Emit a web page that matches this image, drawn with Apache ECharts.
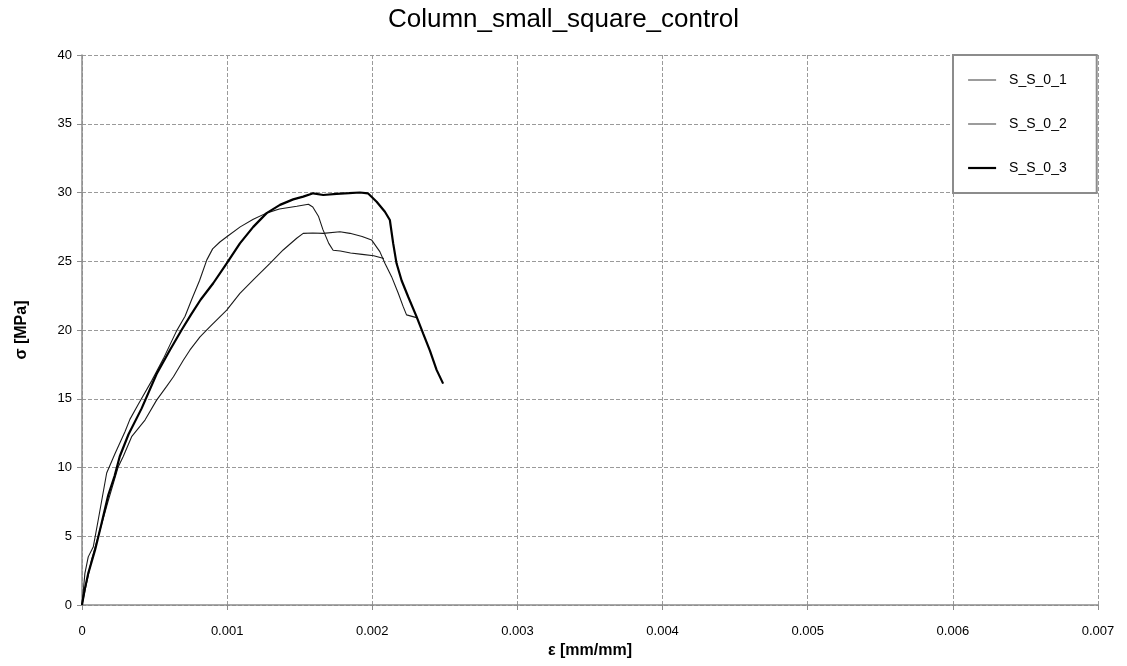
<!DOCTYPE html>
<html>
<head>
<meta charset="utf-8">
<script src="https://cdn.jsdelivr.net/npm/echarts@6/dist/echarts.min.js"></script>
<style>
  html, body { margin: 0; padding: 0; background: #fff; }
  #chart { width: 1127px; height: 666px; }
</style>
</head>
<body>
<div id="chart"></div>
<script>
// Stress–strain curves for the three small square control columns
const seriesNames = ['S_S_0_1', 'S_S_0_2', 'S_S_0_3'];

// S_S_0_1: strain [mm/mm] and stress [MPa]
const strain1 = [0, 0.00002, 0.000043, 0.000078, 0.000112, 0.00017, 0.000227, 0.000296, 0.00033, 0.000388,
  0.00048, 0.00056, 0.00065, 0.00071, 0.000755, 0.00081, 0.00086, 0.0009, 0.00095, 0.001,
  0.00109, 0.00118, 0.00127, 0.00136, 0.00148, 0.00156, 0.00159, 0.00163, 0.00166, 0.0017,
  0.00173, 0.00178, 0.00185, 0.00193, 0.00201, 0.00208];
const stress1 = [0, 2.3, 3.5, 4.24, 6.2, 9.6, 11.0, 12.6, 13.5, 14.6,
  16.3, 17.9, 19.9, 21.0, 22.2, 23.6, 25.1, 25.9, 26.4, 26.8,
  27.5, 28.05, 28.5, 28.8, 29.0, 29.15, 28.95, 28.25, 27.3, 26.3,
  25.8, 25.75, 25.6, 25.5, 25.4, 25.2];

// S_S_0_2
const strain2 = [0, 0.00002, 0.000066, 0.000112, 0.000181, 0.00025, 0.000284, 0.000342, 0.000434, 0.000514,
  0.000583, 0.00063, 0.000698, 0.000744, 0.000813, 0.000882, 0.000997, 0.001088, 0.00118, 0.001295,
  0.001386, 0.001479, 0.001524, 0.00159, 0.001662, 0.001777, 0.001846, 0.00193, 0.001995, 0.002052,
  0.002087, 0.002133, 0.002179, 0.002213, 0.002236, 0.002305];
const stress2 = [0, 1.0, 3.3, 5.0, 7.6, 10.06, 10.8, 12.24, 13.45, 14.9,
  15.9, 16.6, 17.8, 18.55, 19.5, 20.24, 21.45, 22.67, 23.64, 24.85,
  25.82, 26.67, 27.03, 27.05, 27.03, 27.15, 27.03, 26.8, 26.55, 25.7,
  24.85, 23.88, 22.67, 21.7, 21.1, 20.9];

// S_S_0_3
const strain3 = [0, 0.000018, 0.000043, 0.00009, 0.000135, 0.000181, 0.000225, 0.00026, 0.00032, 0.000411,
  0.000514, 0.000606, 0.000686, 0.00075, 0.000817, 0.000904, 0.000997, 0.001088, 0.00118, 0.001272,
  0.001364, 0.001455, 0.001524, 0.001593, 0.001662, 0.001754, 0.00184, 0.001915, 0.00197, 0.00203,
  0.002087, 0.002121, 0.002144, 0.002167, 0.002202, 0.002248, 0.002305, 0.00235, 0.002397, 0.002443,
  0.002488];
const stress3 = [0, 1.1, 2.3, 4.0, 5.94, 8.0, 9.4, 10.8, 12.4, 14.3,
  16.8, 18.55, 20.0, 21.1, 22.2, 23.4, 24.85, 26.3, 27.5, 28.5,
  29.1, 29.5, 29.7, 29.94, 29.82, 29.9, 29.95, 30.0, 29.94, 29.33,
  28.6, 28.0, 26.3, 24.85, 23.6, 22.4, 20.97, 19.76, 18.5, 17.1,
  16.1];

// Axis ticks
const xTickLabels = ['0', '0.001', '0.002', '0.003', '0.004', '0.005', '0.006', '0.007'];
const yTickLabels = ['0', '5', '10', '15', '20', '25', '30', '35', '40'];

const pairs = (xs, ys) => xs.map((x, i) => [x, ys[i]]);

const font = 'Liberation Sans, Arial, sans-serif';
const gridLine = { show: true, lineStyle: { color: '#9a9a9a', width: 1, type: [4, 2] } };
const axisLine = { show: true, lineStyle: { color: '#8c8c8c', width: 1.5 } };
// legend shows only the line sample, no marker
const hiddenMarker = { opacity: 0, color: 'rgba(0,0,0,0)', borderColor: 'rgba(0,0,0,0)', borderWidth: 0 };

const chart = echarts.init(document.getElementById('chart'), null, { renderer: 'canvas' });

chart.setOption({
  animation: false,
  backgroundColor: '#ffffff',
  color: ['#1a1a1a', '#1a1a1a', '#000000'],
  title: {
    text: 'Column_small_square_control',
    left: 'center',
    top: 2,
    textStyle: { fontFamily: font, fontSize: 26, fontWeight: 'normal', color: '#000' }
  },
  legend: {
    orient: 'vertical',
    left: 953,
    top: 55,
    padding: [18, 30, 18, 14],
    itemGap: 30,
    itemWidth: 28,
    itemHeight: 14,
    backgroundColor: '#fff',
    borderColor: '#8c8c8c',
    borderWidth: 2,
    textStyle: { fontFamily: font, fontSize: 14, color: '#000', padding: [0, 0, 0, 8] },
    data: [
      { name: seriesNames[0], itemStyle: hiddenMarker, lineStyle: { color: '#666', width: 1.3 } },
      { name: seriesNames[1], itemStyle: hiddenMarker, lineStyle: { color: '#666', width: 1.3 } },
      { name: seriesNames[2], itemStyle: hiddenMarker, lineStyle: { color: '#000', width: 2.2 } }
    ]
  },
  grid: { left: 82, right: 29, top: 55, bottom: 61, containLabel: false },
  xAxis: {
    type: 'value',
    min: 0,
    max: 0.007,
    interval: 0.001,
    name: 'ε [mm/mm]',
    nameLocation: 'middle',
    nameGap: 38,
    nameTextStyle: { fontFamily: font, fontSize: 16, fontWeight: 'bold', color: '#000' },
    axisLine: axisLine,
    axisTick: { show: true, length: 5, lineStyle: { color: '#8c8c8c' } },
    splitLine: gridLine,
    axisLabel: {
      fontFamily: font, fontSize: 13, color: '#000', margin: 20,
      formatter: v => xTickLabels[Math.round(v / 0.001)]
    }
  },
  yAxis: {
    type: 'value',
    min: 0,
    max: 40,
    interval: 5,
    name: 'σ [MPa]',
    nameLocation: 'middle',
    nameGap: 52,
    nameRotate: 90,
    nameTextStyle: { fontFamily: font, fontSize: 16, fontWeight: 'bold', color: '#000' },
    axisLine: axisLine,
    axisTick: { show: true, length: 5, lineStyle: { color: '#8c8c8c' } },
    splitLine: gridLine,
    axisLabel: {
      fontFamily: font, fontSize: 13, color: '#000', margin: 10,
      formatter: v => yTickLabels[Math.round(v / 5)]
    }
  },
  series: [
    {
      name: seriesNames[0], type: 'line', data: pairs(strain1, stress1),
      symbol: 'none', smooth: false, z: 2,
      lineStyle: { color: '#1a1a1a', width: 1.1 }
    },
    {
      name: seriesNames[1], type: 'line', data: pairs(strain2, stress2),
      symbol: 'none', smooth: false, z: 2,
      lineStyle: { color: '#1a1a1a', width: 1.1 }
    },
    {
      name: seriesNames[2], type: 'line', data: pairs(strain3, stress3),
      symbol: 'none', smooth: false, z: 3,
      lineStyle: { color: '#000', width: 2.2 }
    }
  ]
});
</script>
</body>
</html>
